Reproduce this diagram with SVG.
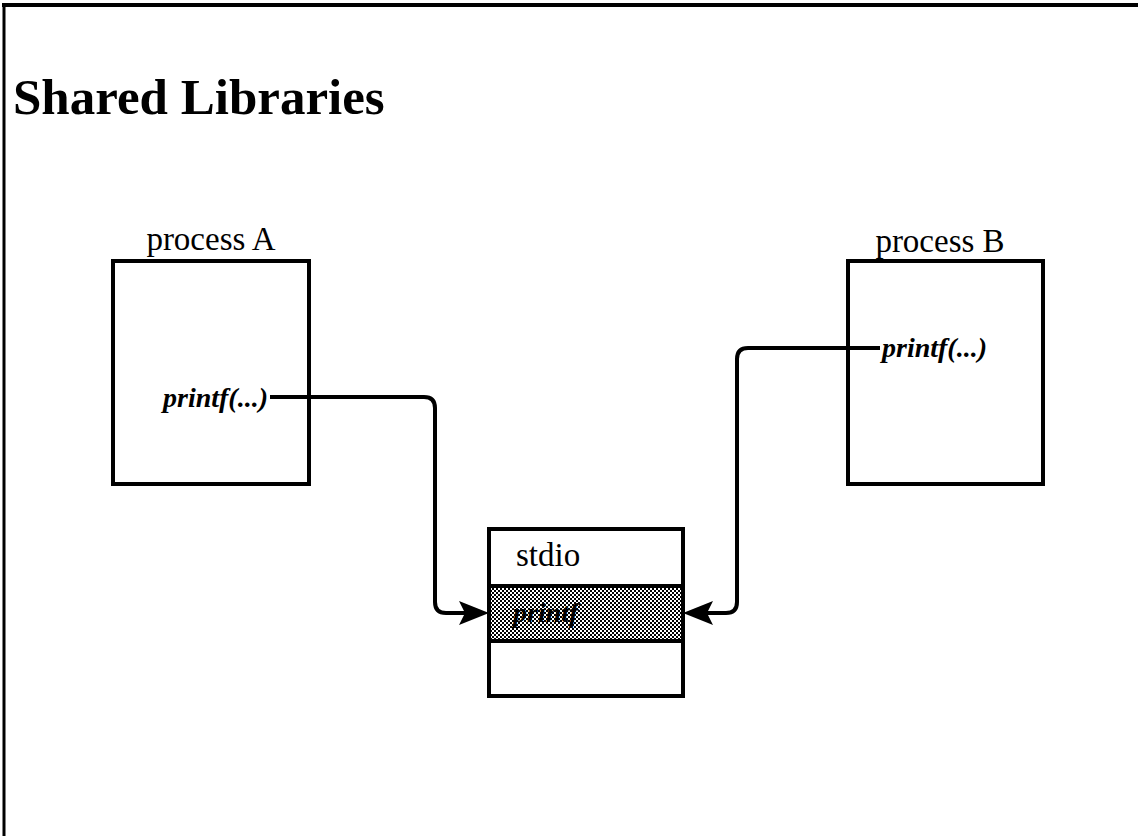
<svg xmlns="http://www.w3.org/2000/svg" width="1138" height="836" viewBox="0 0 1138 836">
<style>
.box{fill:#fff;stroke:#000;stroke-width:4}
.lbl{font-family:"Liberation Serif",serif;font-size:33px;fill:#000}
.it{font-family:"Liberation Serif",serif;font-size:28px;font-style:italic;font-weight:bold;fill:#000}
.conn{fill:none;stroke:#000;stroke-width:4}
</style>
<defs>
<pattern id="dots" width="4" height="4" patternUnits="userSpaceOnUse">
<rect width="4" height="4" fill="#fff"/>
<rect x="0" y="0" width="2" height="2" fill="#000"/>
<rect x="2" y="2" width="2" height="2" fill="#000"/>
</pattern>
<marker id="arr" markerUnits="userSpaceOnUse" markerWidth="34" markerHeight="26" viewBox="0 -13 34 26" refX="6" refY="0" orient="auto" overflow="visible">
<path d="M0,-12 L30,0 L0,12 L6,0 Z" fill="#000"/>
</marker>
</defs>
<rect width="1138" height="836" fill="#fff"/>
<g id="frame">
<line x1="2" y1="5" x2="1138" y2="5" stroke="#000" stroke-width="4"/>
<line x1="4" y1="3" x2="4" y2="836" stroke="#000" stroke-width="3"/>
</g>
<text id="title" x="13" y="114" font-family="Liberation Serif,serif" font-weight="bold" font-size="51">Shared Libraries</text>
<g id="processA">
<rect class="box" x="113" y="261" width="196" height="223"/>
<text class="lbl" x="211" y="250" text-anchor="middle">process A</text>
<text class="it" x="268" y="407" text-anchor="end">printf(...)</text>
</g>
<g id="processB">
<rect class="box" x="848" y="261" width="195" height="223"/>
<text class="lbl" x="940" y="252" text-anchor="middle">process B</text>
<text class="it" x="882" y="357">printf(...)</text>
</g>
<g id="stdio">
<rect x="489" y="586" width="194" height="55" fill="url(#dots)"/>
<rect x="489" y="529" width="194" height="167" fill="none" stroke="#000" stroke-width="4"/>
<line x1="489" y1="586" x2="683" y2="586" stroke="#000" stroke-width="4"/>
<line x1="489" y1="641" x2="683" y2="641" stroke="#000" stroke-width="4"/>
<text class="lbl" x="516" y="566" font-size="31">stdio</text>
<text class="it" x="513" y="622">printf</text>
</g>
<g id="connectors">
<path class="conn" d="M270,397 H424 Q435,397 435,408 V602 Q435,613 446,613 H465" marker-end="url(#arr)"/>
<path class="conn" d="M880,348 H748 Q737,348 737,359 V602 Q737,613 726,613 H707" marker-end="url(#arr)"/>
</g>
</svg>
